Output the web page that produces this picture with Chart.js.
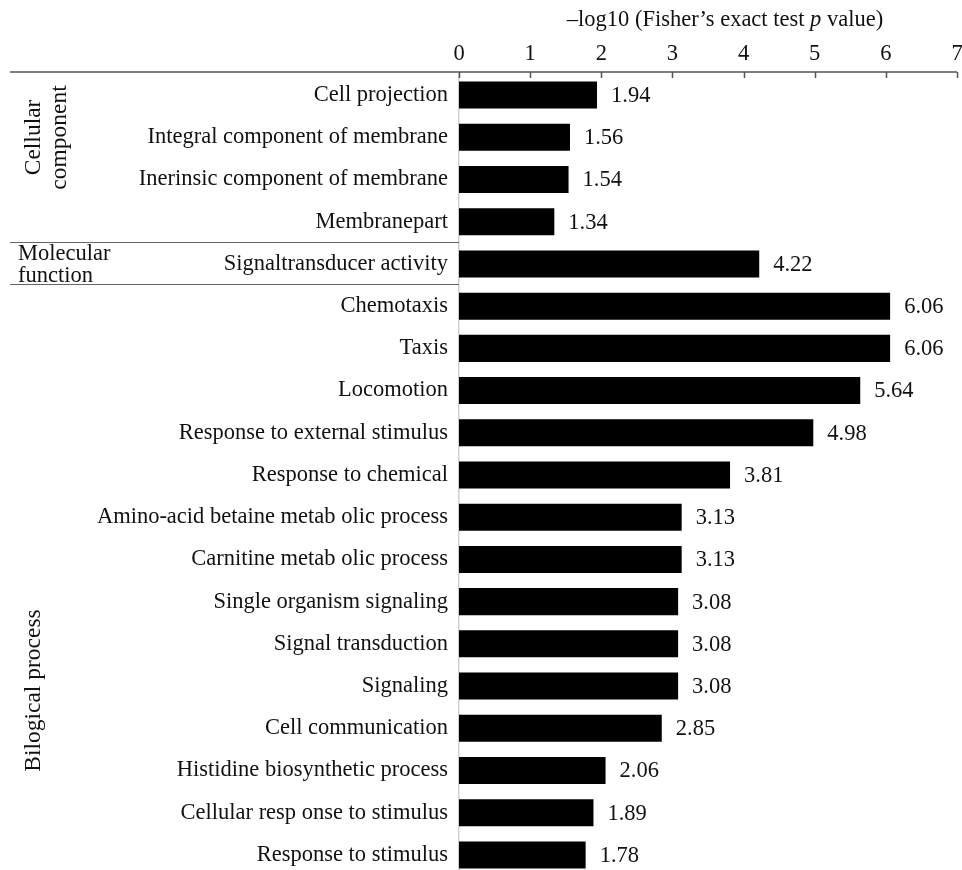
<!DOCTYPE html>
<html>
<head>
<meta charset="utf-8">
<script src="https://cdn.jsdelivr.net/npm/chart.js@4/dist/chart.umd.min.js"></script>
<style>
  html, body { margin: 0; padding: 0; background: #fff; overflow: hidden; }
  canvas { display: block; }
</style>
</head>
<body>
<canvas id="chart" width="962" height="876"></canvas>
<script>
// GO terms, top to bottom
const terms = [
    "Cell projection",
    "Integral component of membrane",
    "Inerinsic component of membrane",
    "Membranepart",
    "Signaltransducer activity",
    "Chemotaxis",
    "Taxis",
    "Locomotion",
    "Response to external stimulus",
    "Response to chemical",
    "Amino-acid betaine metab olic process",
    "Carnitine metab olic process",
    "Single organism signaling",
    "Signal transduction",
    "Signaling",
    "Cell communication",
    "Histidine biosynthetic process",
    "Cellular resp onse to stimulus",
    "Response to stimulus"
];
// -log10(p)
const scores = [1.94, 1.56, 1.54, 1.34, 4.22, 6.06, 6.06, 5.64, 4.98, 3.81, 3.13, 3.13, 3.08, 3.08, 3.08, 2.85, 2.06, 1.89, 1.78];
const xTicks = [0, 1, 2, 3, 4, 5, 6, 7];

// groups: label lines, first and last term index, vertical or not
const groupNames = [["Cellular", "component"], ["Molecular", "function"], ["Bilogical process"]];
const groupStart = [0, 4, 5];
const groupEnd = [3, 4, 18];
const groupVertical = [true, false, true];

const FONT = "'Liberation Serif', 'Times New Roman', serif";
const FS = 22.5;

const decorPlugin = {
    id: 'decor',
    afterDraw(chart) {
        const ctx = chart.ctx;
        const x = chart.scales.x, y = chart.scales.y;
        const area = chart.chartArea;
        const top = area.top - 2;
        ctx.save();

        // top axis line and downward ticks
        ctx.strokeStyle = '#5a5252';
        ctx.lineWidth = 1.5;
        ctx.beginPath();
        ctx.moveTo(10, top);
        ctx.lineTo(area.right, top);
        xTicks.forEach(t => {
            const px = Math.round(x.getPixelForValue(t)) + 0.5;
            ctx.moveTo(px, top);
            ctx.lineTo(px, top + 6);
        });
        ctx.stroke();

        // tick labels above the axis
        ctx.fillStyle = '#111';
        ctx.font = FS + 'px ' + FONT;
        ctx.textAlign = 'center';
        ctx.textBaseline = 'middle';
        xTicks.forEach(t => ctx.fillText(String(t), x.getPixelForValue(t), 54));

        // separators between groups
        ctx.strokeStyle = '#6a6464';
        ctx.lineWidth = 1.2;
        for (let g = 0; g < groupEnd.length - 1; g++) {
            const sy = Math.round((y.getPixelForValue(groupEnd[g]) + y.getPixelForValue(groupEnd[g] + 1)) / 2) - 0.5;
            ctx.beginPath();
            ctx.moveTo(10, sy);
            ctx.lineTo(area.left, sy);
            ctx.stroke();
        }

        // group labels
        groupNames.forEach((lines, g) => {
            const y0 = y.getPixelForValue(groupStart[g]);
            const y1 = y.getPixelForValue(groupEnd[g]);
            if (groupVertical[g]) {
                const cy = g === 0 ? (y0 + y1) / 2 - 21 : (y0 + y1) / 2 + 110;
                ctx.font = '23.5px ' + FONT;
                lines.forEach((line, i) => {
                    ctx.save();
                    ctx.translate(34 + i * 26, cy);
                    ctx.rotate(-Math.PI / 2);
                    ctx.textAlign = 'center';
                    ctx.textBaseline = 'middle';
                    ctx.fillText(line, 0, 0);
                    ctx.restore();
                });
            } else {
                ctx.font = FS + 'px ' + FONT;
                ctx.textAlign = 'left';
                ctx.textBaseline = 'middle';
                lines.forEach((line, i) => {
                    ctx.fillText(line, 18, y0 - 10 + i * 22);
                });
            }
        });

        // value labels
        ctx.font = FS + 'px ' + FONT;
        ctx.textAlign = 'left';
        ctx.textBaseline = 'middle';
        chart.getDatasetMeta(0).data.forEach((bar, i) => {
            ctx.fillText(scores[i].toFixed(2), bar.x + 14, bar.y + 1);
        });

        // axis title with italic p
        const parts = [["\u2013log10 (Fisher\u2019s exact test ", false], ["p", true], [" value)", false]];
        let total = 0;
        parts.forEach(p => {
            ctx.font = (p[1] ? 'italic ' : '') + FS + 'px ' + FONT;
            total += ctx.measureText(p[0]).width;
        });
        let tx = 725 - total / 2;
        parts.forEach(p => {
            ctx.font = (p[1] ? 'italic ' : '') + FS + 'px ' + FONT;
            ctx.fillText(p[0], tx, 20);
            tx += ctx.measureText(p[0]).width;
        });
        ctx.restore();
    }
};

new Chart(document.getElementById('chart'), {
    type: 'bar',
    data: {
        labels: terms,
        datasets: [{
            data: scores,
            backgroundColor: '#000',
            borderWidth: 0,
            barPercentage: 0.64,
            categoryPercentage: 1
        }]
    },
    options: {
        indexAxis: 'y',
        responsive: false,
        animation: false,
        layout: { padding: { right: 5, top: 0, bottom: 0, left: 0 } },
        plugins: { legend: { display: false }, tooltip: { enabled: false } },
        scales: {
            x: {
                position: 'top',
                min: 0,
                max: 7,
                afterBuildTicks(scale) { scale.ticks = xTicks.map(v => ({ value: v })); },
                afterFit(scale) {
                    scale.height = 74;
                    scale.paddingLeft = 0;
                    scale.paddingRight = 0;
                },
                grid: { display: false },
                border: { display: false },
                ticks: { display: false }
            },
            y: {
                afterFit(scale) {
                    scale.width = 459;
                    scale.paddingTop = 0;
                    scale.paddingBottom = 0;
                },
                grid: { display: false },
                border: { display: true, color: '#d0d0d0', width: 1.5 },
                ticks: { color: '#111', font: { family: FONT, size: FS }, padding: 3 }
            }
        }
    },
    plugins: [decorPlugin]
});
</script>
</body>
</html>
